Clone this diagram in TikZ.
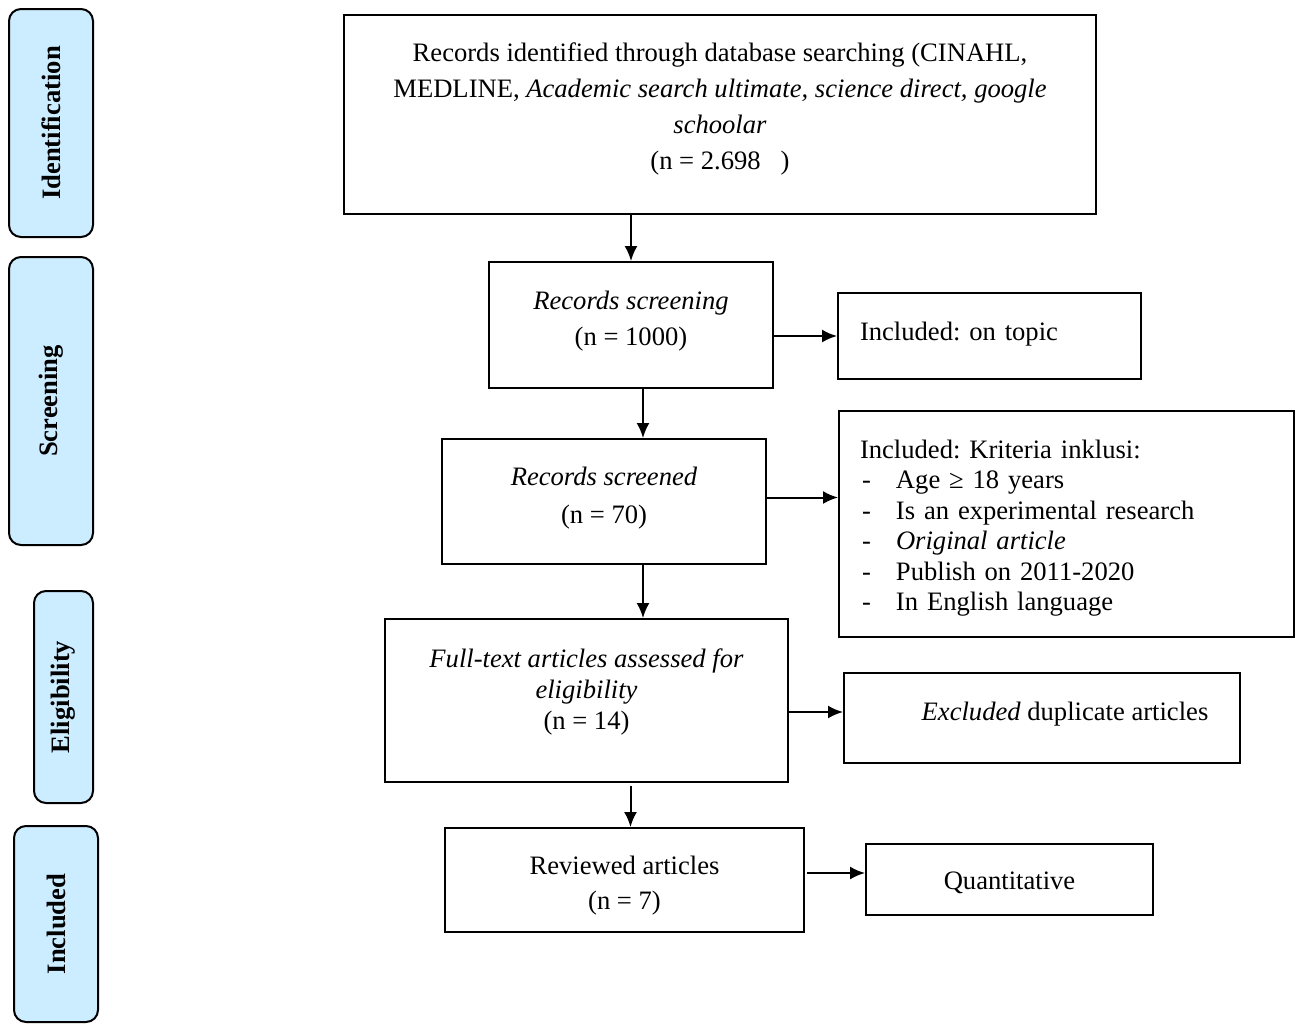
\documentclass[tikz,border=0pt]{standalone}
\usepackage{fontspec}
\setmainfont{Liberation Serif}
\usetikzlibrary{arrows.meta}
\definecolor{stageblue}{RGB}{204,236,255}
\newcommand{\critdash}{\makebox[18pt][l]{\hspace{1pt}-}}
\frenchspacing

\begin{document}
\begin{tikzpicture}[x=0.5pt, y=-0.5pt,
    box/.style={draw, line width=1pt, align=center, inner sep=4pt, text height=0pt, text depth=0pt, font=\fontsize{13.3}{18}\selectfont},
    stage/.style={draw, line width=1pt, rounded corners=6pt, fill=stageblue, rotate=90, font=\fontsize{13.3}{16}\selectfont\bfseries},
    arr/.style={-{Latex[length=7.5pt,width=6.5pt]}, line width=1pt}]
  \useasboundingbox (0,0) rectangle (1298,1024);

  % stages on the left
  \node[stage, minimum width=114pt, minimum height=42pt] (sIdent) at (51,123) {Identification};
  \node[stage, minimum width=144pt, minimum height=42pt] (sScreen) at (51,401) {Screening};
  \node[stage, minimum width=106pt, minimum height=29.5pt] (sElig) at (63.5,697) {Eligibility};
  \node[stage, minimum width=98pt, minimum height=42pt] (sIncl) at (56,924) {Included};

  % main column
  \node[box, minimum width=376pt, minimum height=99.5pt, text height=54.5pt] (top) at (720,114.5)
    {Records identified through database searching (CINAHL,\\
     MEDLINE, \textit{Academic search ultimate, science direct, google}\\
     \textit{schoolar}\\
     (n = 2.698\hspace{10pt})};
  \node[box, minimum width=142pt, minimum height=63pt, text height=20pt] (scr) at (631,325)
    {\textit{Records screening}\\(n = 1000)};
  \node[box, minimum width=162pt, minimum height=62.5pt, text height=22pt, font=\fontsize{13.3}{19}\selectfont] (screened) at (604,501.5)
    {\textit{Records screened}\\(n = 70)};
  \node[box, minimum width=201.5pt, minimum height=81.5pt, text height=28.5pt, font=\fontsize{13.3}{15.5}\selectfont] (full) at (586.5,700.5)
    {\textit{Full-text articles assessed for}\\\textit{eligibility}\\(n = 14)};
  \node[box, minimum width=179.5pt, minimum height=52pt, text height=29pt, font=\fontsize{13.3}{17.5}\selectfont] (rev) at (624.5,880)
    {Reviewed articles\\(n = 7)};

  % right column
  \node[box, align=left, text width=129.5pt, inner xsep=11pt, minimum height=43pt, text height=4pt] (topic) at (989.5,336)
    {Included: on topic};
  \node[box, align=left, text width=206.5pt, inner xsep=10.5pt, minimum height=113pt, text depth=66pt, font=\fontsize{13.3}{15.25}\selectfont] (crit) at (1066.5,524)
    {Included: Kriteria inklusi:\\
     \critdash Age ≥ 18 years\\
     \critdash Is an experimental research\\
     \critdash \textit{Original article}\\
     \critdash Publish on 2011-2020\\
     \critdash In English language};
  \node[box, minimum width=198pt, minimum height=45pt, text height=2pt] (excl) at (1042,718)
    {\hspace*{23pt}\textit{Excluded} duplicate articles};
  \node[box, minimum width=143.5pt, minimum height=35.5pt, text height=9.5pt] (quant) at (1009.5,879.5)
    {Quantitative};

  % arrows down
  \draw[arr] (top.south -| scr.north) -- (scr.north);
  \draw[arr] ([xshift=6pt]scr.south) -- ([xshift=6pt]scr.south |- screened.north);
  \draw[arr] ([xshift=19.5pt]screened.south) -- ([xshift=19.5pt]screened.south |- full.north);
  \draw[arr] ([xshift=22pt,yshift=-1.5pt]full.south) -- ([xshift=22pt]full.south |- rev.north);

  % arrows right
  \draw[arr] (scr.east |- topic.west) -- (topic.west);
  \draw[arr] ([yshift=2pt]screened.east) -- ([yshift=2pt]screened.east -| crit.west);
  \draw[arr] ([yshift=3pt]excl.west -| full.east) -- ([yshift=3pt]excl.west);
  \draw[arr] ([xshift=1pt,yshift=3.5pt]rev.east) -- ([yshift=3.5pt]rev.east -| quant.west);
\end{tikzpicture}
\end{document}
